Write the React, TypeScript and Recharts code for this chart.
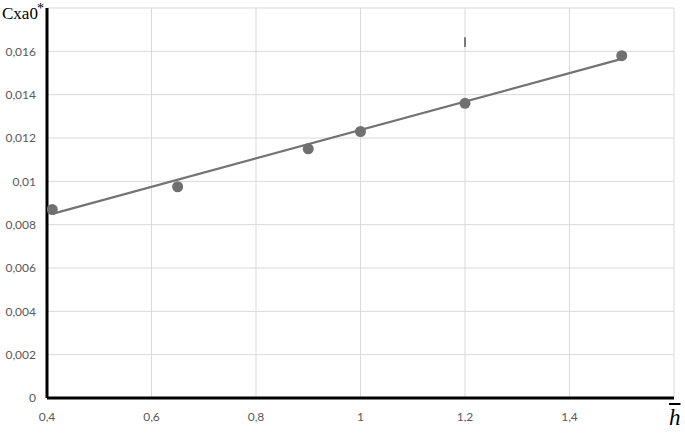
import { ComposedChart, Scatter, Line, XAxis, YAxis, CartesianGrid, ReferenceLine } from "recharts"

const xs = [0.41, 0.65, 0.9, 1.0, 1.2, 1.5]
const cxa = [0.0087, 0.00975, 0.0115, 0.0123, 0.0136, 0.0158]
const trendX = [0.41, 1.5]
const trendY = [0.0085, 0.01565]
const xTicks = [0.4, 0.6, 0.8, 1.0, 1.2, 1.4]
const yTicks = [0, 0.002, 0.004, 0.006, 0.008, 0.01, 0.012, 0.014, 0.016]

const points = xs.map((x, i) => ({ x, y: cxa[i] }))
const trend = trendX.map((x, i) => ({ x, y: trendY[i] }))

const fmt = (v: number) => String(Number(v.toFixed(4))).replace(".", ",")
const tickStyle = { fontFamily: "Lato, 'Noto Sans', sans-serif", fontSize: 12, fill: "#595959" }

export default function App() {
  return (
    <div style={{ position: "fixed", left: 0, top: 0, width: 685, height: 435, background: "#fff" }}>
      <ComposedChart width={685} height={435} margin={{ top: 8, right: 11, bottom: 0, left: 0 }}>
        <CartesianGrid stroke="#d9d9d9" strokeWidth={1} />
        <XAxis
          type="number"
          dataKey="x"
          domain={[0.4, 1.6]}
          ticks={xTicks}
          tickFormatter={fmt}
          tick={tickStyle}
          tickLine={false}
          tickMargin={8}
          height={37}
          axisLine={{ stroke: "#000", strokeWidth: 3 }}
          allowDataOverflow
        />
        <YAxis
          type="number"
          domain={[0, 0.018]}
          ticks={yTicks}
          tickFormatter={fmt}
          tick={tickStyle}
          tickLine={false}
          tickMargin={5}
          width={47}
          axisLine={{ stroke: "#000", strokeWidth: 3 }}
        />
        <ReferenceLine
          segment={[{ x: 1.2, y: 0.0162 }, { x: 1.2, y: 0.01665 }]}
          stroke="#555"
          strokeWidth={1.5}
        />
        <Line
          data={trend}
          dataKey="y"
          type="linear"
          stroke="#737373"
          strokeWidth={2.2}
          dot={false}
          isAnimationActive={false}
        />
        <Scatter data={points} dataKey="y" fill="#707070" shape={(p: any) => <circle cx={p.cx} cy={p.cy} r={5.5} fill="#707070" />} isAnimationActive={false} />
      </ComposedChart>
      <div style={{ position: "absolute", left: 2, top: 4, fontFamily: "'Liberation Serif', serif", fontSize: 17, color: "#000" }}>
        Cxa0<span style={{ position: "absolute", left: 35, top: -3, fontSize: 14 }}>*</span>
      </div>
      <div style={{ position: "absolute", left: 669, top: 405, fontFamily: "'Liberation Serif', serif", fontStyle: "italic", fontSize: 23, color: "#000", textDecoration: "overline", lineHeight: "26px" }}>
        h
      </div>
    </div>
  )
}
